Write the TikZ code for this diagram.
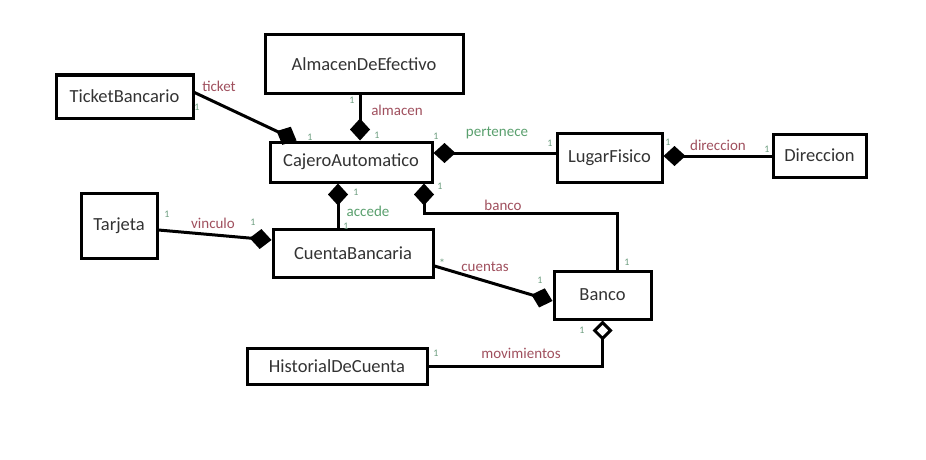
\documentclass[tikz,border=0pt]{standalone}
\usepackage{fontspec}
\setmainfont{Carlito}
\usetikzlibrary{arrows.meta,calc}
\definecolor{lblred}{HTML}{A0505E}
\definecolor{lblgreen}{HTML}{5AA06E}
\definecolor{multc}{HTML}{6E9E80}
\definecolor{boxtxt}{HTML}{333333}
\begin{document}
\begin{tikzpicture}[x=1pt,y=-1pt,
  cls/.style={draw, line width=3pt, inner sep=0pt, font=\fontsize{18.5}{20}\selectfont, text=boxtxt},
  conn/.style={line width=3pt},
  comp/.style={conn, -{Diamond[length=22pt,width=20pt]}},
  aggr/.style={conn, -{Diamond[open,length=20pt,width=20pt,fill=white]}},
  rl/.style={font=\fontsize{15}{17}\selectfont, text=lblred, inner sep=0pt},
  gl/.style={font=\fontsize{15}{17}\selectfont, text=lblgreen, inner sep=0pt},
  ml/.style={font=\fontsize{10}{11}\selectfont, text=multc, inner sep=0pt}
]
\fill[white] (0,0) rectangle (926,460);
\useasboundingbox (0,0) rectangle (926,460);

% classes
\node[cls, minimum width=137pt, minimum height=43pt] (TB) at (124.5,96.5) {TicketBancario};
\node[cls, minimum width=198pt, minimum height=58pt] (AE) at (364,64) {AlmacenDeEfectivo};
\node[cls, minimum width=162pt, minimum height=40pt] (CA) at (351,162) {CajeroAutomatico};
\node[cls, minimum width=105pt, minimum height=49pt] (LF) at (609.5,157.5) {LugarFisico};
\node[cls, minimum width=93pt, minimum height=43pt] (DI) at (819.5,155.5) {Direccion};
\node[cls, minimum width=76pt, minimum height=65pt] (TJ) at (119,225.5) {Tarjeta};
\node[cls, minimum width=160pt, minimum height=48pt] (CB) at (353,253) {CuentaBancaria};
\node[cls, minimum width=97pt, minimum height=48pt] (BA) at (602.5,295) {Banco};
\node[cls, minimum width=180pt, minimum height=36pt] (HC) at (337,366) {HistorialDeCuenta};

% helper coordinates
\coordinate (xa) at (360,0);
\coordinate (yp) at (0,153);
\coordinate (yd) at (0,156);
\coordinate (xc) at (338,0);
\coordinate (bk) at (424,213);
\coordinate (bx) at (617,0);

% connectors
\draw[comp] ([yshift=4pt]TB.east) -- ([xshift=28pt]CA.north west);
\draw[comp] (AE.south -| xa) -- (CA.north -| xa);
\draw[comp] (LF.west |- yp) -- (CA.east |- yp);
\draw[comp] (DI.west |- yd) -- (LF.east |- yd);
\draw[comp] (CB.north -| xc) -- (CA.south -| xc);
\draw[comp] (BA.north -| bx) |- (bk) -- (CA.south -| bk);
\draw[comp] ([yshift=-4.5pt]TJ.east) -- ([yshift=13pt]CB.west);
\draw[comp] ([yshift=-13pt]CB.east) -- ([yshift=-6pt]BA.west);
\draw[aggr] (HC.east) -| (BA.south);

% role labels
\node[rl] (l1) at (219,86) {ticket};
\node[rl] (l2) at (397,110) {almacen};
\node[gl] (l3) at (497,133) {pertenece};
\node[rl] (l4) at (718,145) {direccion};
\node[gl] (l5) at (368,211) {accede};
\node[rl] (l6) at (503,205) {banco};
\node[rl] (l7) at (213,223) {vinculo};
\node[rl] (l8) at (485,267) {cuentas};
\node[rl] (l9) at (521,353) {movimientos};

% multiplicities
\node[ml] (m1) at (197,107) {1};
\node[ml] (m2) at (310,137) {1};
\node[ml] (m3) at (352,100) {1};
\node[ml] (m4) at (377,135) {1};
\node[ml] (m5) at (436,136) {1};
\node[ml] (m6) at (550,143) {1};
\node[ml] (m7) at (668,142) {1};
\node[ml] (m8) at (767,149) {1};
\node[ml] (m9) at (356,192) {1};
\node[ml] (m10) at (346,226) {1};
\node[ml] (m11) at (440,186) {1};
\node[ml] (m12) at (627,262) {1};
\node[ml] (m13) at (167,214) {1};
\node[ml] (m14) at (253,222) {1};
\node[ml, font=\fontsize{12}{12}\selectfont] (m15) at (442,263) {*};
\node[ml] (m16) at (540,280) {1};
\node[ml] (m17) at (582,330) {1};
\node[ml] (m18) at (436,353) {1};
\end{tikzpicture}
\end{document}
